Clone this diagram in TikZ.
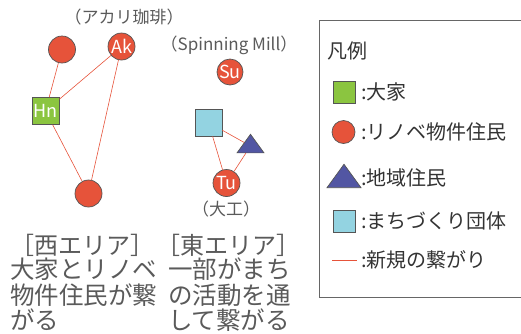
\documentclass[tikz,border=0pt]{standalone}
\usepackage{fontspec}
\setmainfont{Noto Sans CJK JP}
\usetikzlibrary{shapes.geometric}
\definecolor{nred}{HTML}{E6533A}
\definecolor{ngreen}{HTML}{8BC540}
\definecolor{ncyan}{HTML}{93D3E1}
\definecolor{nblue}{HTML}{5256A3}
\definecolor{nedge}{HTML}{555555}
\definecolor{txtdark}{HTML}{333333}
\definecolor{txtbody}{HTML}{5A5A5A}
\tikzset{
  circ/.style={circle, fill=nred, draw=nedge, line width=0.7pt, minimum size=27pt, inner sep=0pt,
    text=white, font=\fontsize{18}{18}\selectfont},
  sqbox/.style={rectangle, draw=nedge, line width=0.7pt, minimum size=27pt, inner sep=0pt,
    text=white, font=\fontsize{18}{18}\selectfont},
  tri/.style={isosceles triangle, isosceles triangle apex angle=72, shape border rotate=90,
    fill=nblue, draw=nedge, line width=0.7pt, inner sep=0pt},
  link/.style={draw=nred, line width=0.6pt},
  caplbl/.style={text=txtbody, font=\fontsize{17}{17}\selectfont, inner sep=0pt},
  headlbl/.style={text=txtbody, font=\fontsize{24}{24}\selectfont, inner sep=0pt, anchor=west},
  bodylbl/.style={text=txtbody, font=\fontsize{24.5}{25.5}\selectfont, inner sep=0pt, anchor=north west, align=left},
  legtxt/.style={text=txtdark, font=\fontsize{20}{20}\selectfont, inner sep=0pt, anchor=west},
}
\begin{document}
\begin{tikzpicture}[x=1pt,y=-1pt]
\useasboundingbox (0,0) rectangle (521,333);
% west area
\node[caplbl] (lak) at (124,17) {（アカリ珈琲）};
\node[circ] (c1) at (62,49.5) {};
\node[circ] (ak) at (121.5,46.5) {Ak};
\node[sqbox, fill=ngreen] (hn) at (45.5,111) {Hn};
\node[circ] (c2) at (88.5,193.5) {};
\draw[link] (c1) -- (hn);
\draw[link] (ak) -- (hn);
\draw[link] (ak) -- (c2);
\draw[link] (hn) -- (c2);
% east area
\node[caplbl] (lsm) at (229,45) {（Spinning Mill）};
\node[circ, minimum size=26pt] (su) at (230,72) {Su};
\node[sqbox, fill=ncyan] (mz) at (208.5,122.5) {};
\node[tri, minimum width=27pt] (tr) at (250.5,146) {};
\node[circ] (tu) at (226.5,183) {Tu};
\node[caplbl] (ldk) at (226,209) {（大工）};
\draw[link] (mz) -- (tu);
\draw[link] (mz) -- (tr);
\draw[link] (tr) -- (tu);
% texts
\node[headlbl] (hw) at (10,245) {［西エリア］};
\node[headlbl] (he) at (156,245) {［東エリア］};
\node[bodylbl] (bw) at (10,258) {大家とリノベ\\物件住民が繋\\がる};
\node[bodylbl] (be) at (168,258) {一部がまち\\の活動を通\\して繋がる};
% legend
\draw[draw=nedge!90, line width=1pt] (521,20) -- (319,20) -- (319,297) -- (521,297);
\node[legtxt] (lt) at (327,51) {凡例};
\node[sqbox, fill=ngreen, minimum size=22pt] (lg1) at (344,92) {};
\node[legtxt] (lt1) at (361,92) {:大家};
\node[circ, minimum size=23pt] (lg2) at (343.5,132) {};
\node[legtxt] (lt2) at (361,132) {:リノベ物件住民};
\node[tri, minimum width=34pt] (lg3) at (344,179) {};
\node[legtxt] (lt3) at (361,178) {:地域住民};
\node[sqbox, fill=ncyan, minimum size=22pt] (lg4) at (344,221) {};
\node[legtxt] (lt4) at (361,221) {:まちづくり団体};
\coordinate (l1) at (332,260);
\coordinate (l2) at (357,260);
\draw[link, line width=0.9pt] (l1) -- (l2);
\node[legtxt] (lt5) at (361,260) {:新規の繋がり};
\end{tikzpicture}
\end{document}
